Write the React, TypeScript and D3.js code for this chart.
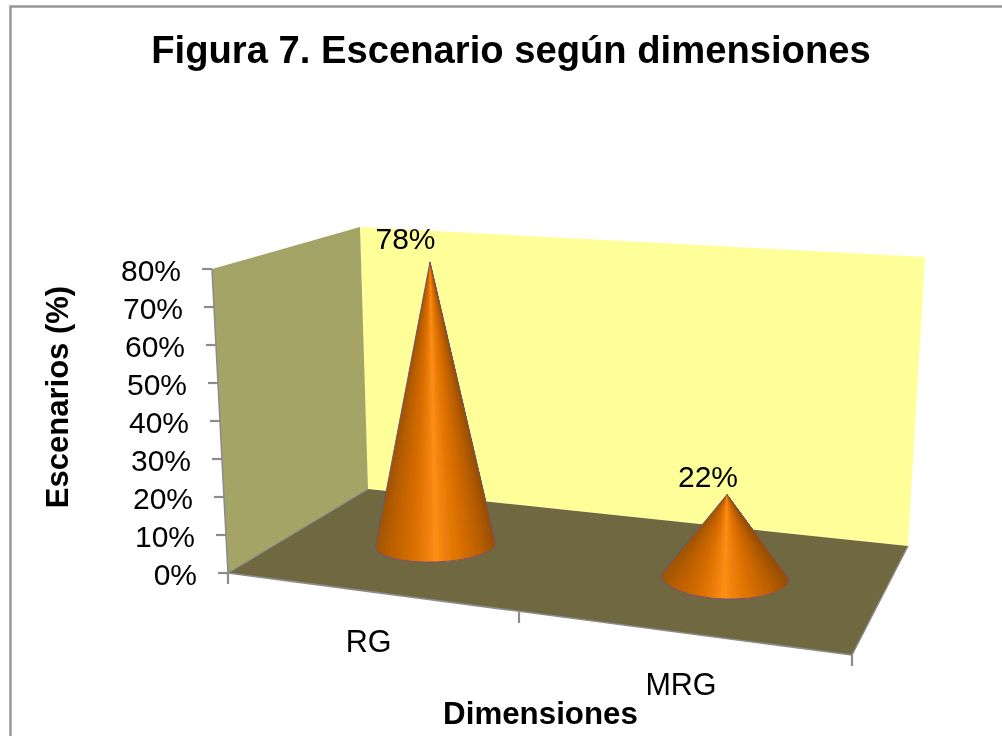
import React from "react";
import * as d3 from "d3";

const categories = ["RG", "MRG"];
const values = [78, 22];
const valueLabels = ["78%", "22%"];
const yTicks = [0, 10, 20, 30, 40, 50, 60, 70, 80];
const yTickLabels = ["0%", "10%", "20%", "30%", "40%", "50%", "60%", "70%", "80%"];
const title = "Figura 7. Escenario según dimensiones";
const xTitle = "Dimensiones";
const yTitle = "Escenarios (%)";

const W = 1002;
const H = 736;
const FONT = "'Liberation Sans', Arial, sans-serif";

// Projection of the 3D box
const P = {
  frontTopLeft: [212, 269],
  frontBottomLeft: [228, 573],
  backTopLeft: [360, 227],
  backBottomLeft: [368, 489],
  backTopRight: [925, 257],
  backBottomRight: [908, 546],
  frontBottomRight: [852, 655],
};
const poly = (pts: number[][]) => pts.map((p) => p.join(",")).join(" ");

const yPix = d3.scaleLinear().domain([0, 80]).range([573, 269]);
const yEdgeX = d3.scaleLinear().domain([0, 80]).range([228, 212]);
const catTickX = d3.scaleLinear().domain([0, 1, 2]).range([228, 519, 852]);
const catTickY = d3.scaleLinear().domain([0, 1, 2]).range([573, 612, 655]);

const coneX = d3.scaleLinear().domain([0, 1]).range([435.5, 725]);
const coneY = d3.scaleLinear().domain([0, 1]).range([545, 577]);
const coneRx = d3.scaleLinear().domain([0, 1]).range([60, 64]);
const coneRy = d3.scaleLinear().domain([0, 1]).range([17, 22]);
const coneRot = d3.scaleLinear().domain([0, 1]).range([-2, 2]);
const coneUnit = d3.scaleLinear().domain([0, 1]).range([3.63, 3.75]);
const apexShift = d3.scaleLinear().domain([0, 1]).range([-5.5, 2]);
const labelDx = d3.scaleLinear().domain([0, 1]).range([-24.5, -19]);
const labelDy = d3.scaleLinear().domain([0, 1]).range([-12.5, -8]);

// Shading across the cone's front, from its left edge to its right edge
const shade = d3
  .scaleLinear<string>()
  .domain([0, 0.1, 0.28, 0.42, 0.5, 0.58, 0.74, 0.9, 1])
  .range(["#a05400", "#b85e00", "#d56c00", "#ed7e0a", "#fd8f18", "#ee800a", "#d66c00", "#b45c00", "#964e00"]);

const SLICES = d3.range(40);

function coneGeometry(i: number, v: number) {
  const cx = coneX(i);
  const cy = coneY(i);
  const rx = coneRx(i);
  const ry = coneRy(i);
  const rot = coneRot(i);
  const a = (rot * Math.PI) / 180;
  const apexX = cx + apexShift(i);
  const apexY = cy - v * coneUnit(i);
  // base ellipse point for s = 0 (left) .. 1 (right), evenly spaced in x, along the front
  const base = (s: number) => {
    const ex = rx * (2 * s - 1);
    const ey = ry * Math.sqrt(Math.max(0, 1 - (2 * s - 1) ** 2));
    return [cx + ex * Math.cos(a) - ey * Math.sin(a), cy + ex * Math.sin(a) + ey * Math.cos(a)];
  };
  const n = SLICES.length;
  // painted left to right, each one reaching the right edge, so no seams show
  const slices = SLICES.map((k) => {
    const arc = d3.range(k, n + 1).map((m) => base(m / n));
    return { k, points: poly([[apexX, apexY], ...arc]), fill: shade((k + 0.5) / n) };
  });
  const l = base(0);
  const r = base(1);
  const p = d3.path();
  p.moveTo(l[0], l[1]);
  p.lineTo(apexX, apexY);
  p.lineTo(r[0], r[1]);
  const outline = `${p.toString()} A${rx},${ry} ${rot} 0 1 ${l[0]},${l[1]} Z`;
  return { slices, outline, apexX, apexY };
}

export default function App() {
  const gray = "#8c8c8c";
  return (
    <svg
      width={W}
      height={H}
      viewBox={`0 0 ${W} ${H}`}
      style={{ position: "absolute", left: 0, top: 0, background: "#fff" }}
      fontFamily={FONT}
    >
      <defs>
        <filter id="soft" x="0" y="0" width="100%" height="100%">
          <feGaussianBlur stdDeviation="0.55" />
        </filter>
      </defs>
      <g filter="url(#soft)">
        <rect x={0} y={0} width={W} height={H} fill="#fff" />
        <path d={`M10.5,736 V6.5 H1002`} fill="none" stroke="#969696" strokeWidth={2.4} />

        <text x={511} y={63} textAnchor="middle" fontSize={38.2} fontWeight="bold" fill="#000">
          {title}
        </text>

        <polygon points={poly([P.backTopLeft, P.backTopRight, P.backBottomRight, P.backBottomLeft])} fill="#ffff99" />
        <polygon points={poly([P.frontTopLeft, P.backTopLeft, P.backBottomLeft, P.frontBottomLeft])} fill="#a4a466" />
        <polygon points={poly([P.frontBottomLeft, P.backBottomLeft, P.backBottomRight, P.frontBottomRight])} fill="#6f6840" />

        <line x1={P.frontTopLeft[0]} y1={P.frontTopLeft[1]} x2={P.frontBottomLeft[0]} y2={P.frontBottomLeft[1]} stroke={gray} strokeWidth={1.6} />
        <line x1={P.frontBottomLeft[0]} y1={P.frontBottomLeft[1]} x2={P.frontBottomRight[0]} y2={P.frontBottomRight[1]} stroke={gray} strokeWidth={1.6} />
        <line x1={P.frontBottomRight[0]} y1={P.frontBottomRight[1]} x2={P.backBottomRight[0]} y2={P.backBottomRight[1]} stroke={gray} strokeWidth={1.4} />
        <line x1={P.frontBottomLeft[0]} y1={P.frontBottomLeft[1]} x2={P.backBottomLeft[0]} y2={P.backBottomLeft[1]} stroke={gray} strokeWidth={1.2} />

        {yTicks.map((t, i) => (
          <g key={t}>
            <line x1={yEdgeX(t) - 10} x2={yEdgeX(t)} y1={yPix(t)} y2={yPix(t)} stroke={gray} strokeWidth={2.2} />
            <text x={yEdgeX(t) - 31} y={yPix(t) + 12} textAnchor="end" fontSize={30} fill="#000">
              {yTickLabels[i]}
            </text>
          </g>
        ))}

        {[0, 1, 2].map((k) => (
          <line key={k} x1={catTickX(k)} x2={catTickX(k)} y1={catTickY(k)} y2={catTickY(k) + 11} stroke={gray} strokeWidth={2.2} />
        ))}

        {values.map((v, i) => {
          const c = coneGeometry(i, v);
          return (
            <g key={categories[i]}>
              {c.slices.map((s) => (
                <polygon key={s.k} points={s.points} fill={s.fill} />
              ))}
              <path d={c.outline} fill="none" stroke="#6b4f86" strokeWidth={0.9} />
              <text x={c.apexX + labelDx(i)} y={c.apexY + labelDy(i)} textAnchor="middle" fontSize={30} fill="#000">
                {valueLabels[i]}
              </text>
            </g>
          );
        })}

        <text x={368.5} y={652} textAnchor="middle" fontSize={30.5} fill="#000">{categories[0]}</text>
        <text x={681} y={695} textAnchor="middle" fontSize={30.5} fill="#000">{categories[1]}</text>

        <text x={540.5} y={724} textAnchor="middle" fontSize={31.3} fontWeight="bold" fill="#000">{xTitle}</text>
        <text
          transform="translate(68,397) rotate(-90)"
          textAnchor="middle"
          fontSize={31}
          fontWeight="bold"
          fill="#000"
        >
          {yTitle}
        </text>
      </g>
    </svg>
  );
}
